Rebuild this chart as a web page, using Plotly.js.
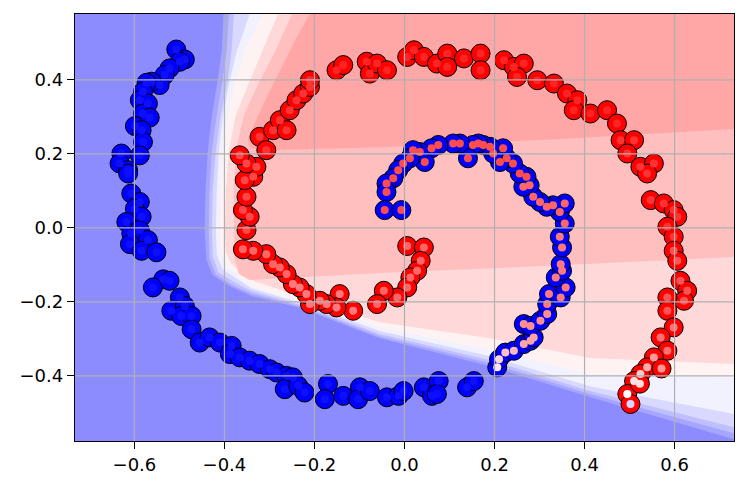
<!DOCTYPE html>
<html>
<head>
<meta charset="utf-8">
<script src="https://cdn.plot.ly/plotly-3.0.1.min.js"></script>
<style>
  html, body { margin: 0; padding: 0; background: #fff; }
  #chart { width: 748px; height: 488px; }
</style>
</head>
<body>
<div id="chart"></div>
<script>
// axis ticks
const xTickVals = [-0.6, -0.4, -0.2, 0, 0.2, 0.4, 0.6];
const xTickText = ['\u22120.6', '\u22120.4', '\u22120.2', '0.0', '0.2', '0.4', '0.6'];
const yTickVals = [-0.4, -0.2, 0, 0.2, 0.4];
const yTickText = ['\u22120.4', '\u22120.2', '0.0', '0.2', '0.4'];

// decision surface: contour lines (levels 0.1 .. 0.8)
const lvl1X = [-0.402,-0.406,-0.415,-0.428,-0.437,-0.442,-0.444,-0.440,-0.426,-0.388,-0.339,-0.233,-0.055,0.190,0.412,0.732];
const lvl1Y = [0.578,0.480,0.399,0.305,0.210,0.102,-0.006,-0.087,-0.128,-0.158,-0.185,-0.216,-0.298,-0.374,-0.457,-0.571];
const lvl2X = [-0.390,-0.395,-0.404,-0.417,-0.428,-0.433,-0.435,-0.433,-0.420,-0.382,-0.339,-0.233,-0.055,0.190,0.412,0.732];
const lvl2Y = [0.578,0.480,0.399,0.305,0.210,0.102,-0.006,-0.082,-0.125,-0.155,-0.178,-0.212,-0.293,-0.366,-0.449,-0.555];
const lvl3X = [-0.379,-0.384,-0.393,-0.408,-0.419,-0.426,-0.428,-0.426,-0.413,-0.375,-0.339,-0.233,-0.055,0.190,0.412,0.732];
const lvl3Y = [0.578,0.480,0.399,0.305,0.210,0.102,-0.006,-0.077,-0.120,-0.149,-0.171,-0.208,-0.287,-0.358,-0.441,-0.539];
const lvl4X = [-0.344,-0.373,-0.388,-0.403,-0.412,-0.417,-0.419,-0.417,-0.404,-0.368,-0.339,-0.233,-0.055,0.190,0.412,0.732];
const lvl4Y = [0.578,0.475,0.399,0.305,0.210,0.102,-0.006,-0.071,-0.112,-0.141,-0.164,-0.202,-0.279,-0.347,-0.428,-0.503];
const lvl5X = [-0.315,-0.355,-0.375,-0.393,-0.404,-0.408,-0.410,-0.408,-0.395,-0.362,-0.339,-0.233,-0.055,0.190,0.412,0.732];
const lvl5Y = [0.578,0.475,0.394,0.305,0.210,0.102,-0.006,-0.066,-0.104,-0.133,-0.158,-0.197,-0.268,-0.330,-0.395,-0.404];
const lvl6X = [-0.281,-0.317,-0.348,-0.375,-0.390,-0.397,-0.399,-0.397,-0.384,-0.353,-0.333,-0.233,-0.055,0.190,0.412,0.732];
const lvl6Y = [0.578,0.475,0.386,0.305,0.210,0.102,-0.006,-0.066,-0.098,-0.128,-0.144,-0.185,-0.255,-0.298,-0.352,-0.368];
const lvl7X = [-0.250,-0.288,-0.326,-0.357,-0.372,-0.379,-0.379,-0.377,-0.368,-0.344,-0.055,0.345,0.732];
const lvl7Y = [0.578,0.475,0.386,0.305,0.224,0.129,0.021,-0.087,-0.125,-0.141,-0.122,-0.101,-0.079];
const lvl8X = [-0.210,-0.237,-0.266,-0.299,-0.330,-0.348,-0.344,-0.317,-0.055,0.345,0.732];
const lvl8Y = [0.578,0.521,0.453,0.372,0.291,0.242,0.218,0.210,0.218,0.240,0.267];

const bgColor = '#8c8cff';
const levelColors = ['#a6a6ff', '#bfbfff', '#d9d9ff', '#f2f2ff', '#fff2f2', '#ffd9d9', '#ffbfbf', '#ffa6a6'];

// class 0 (blue spiral)
const blueX = [-0.507,-0.488,-0.499,-0.522,-0.533,-0.544,-0.562,-0.573,-0.581,-0.588,-0.570,-0.581,-0.566,-0.599,-0.584,-0.581,-0.588,-0.629,-0.633,-0.614,-0.614,-0.607,-0.588,-0.599,-0.584,-0.618,-0.607,-0.588,-0.570,-0.610,-0.584,-0.551,-0.536,-0.559,-0.522,-0.499,-0.518,-0.488,-0.496,-0.473,-0.473,-0.455,-0.433,-0.410,-0.384,-0.388,-0.366,-0.344,-0.322,-0.299,-0.284,-0.262,-0.248,-0.266,-0.236,-0.222,-0.170,-0.177,-0.136,-0.099,-0.103,-0.077,-0.039,-0.013,-0.002,0.043,0.061,0.076,0.072,0.139,0.154,
  0.206,0.210,0.224,0.243,0.265,0.280,0.287,0.265,0.280,0.302,0.317,0.317,0.321,0.347,0.358,0.336,0.350,0.347,0.350,0.345,0.356,0.345,0.356,0.330,0.316,0.301,0.286,0.278,0.264,0.271,0.256,0.241,0.227,0.212,0.219,0.197,0.190,0.175,0.164,0.152,0.141,0.123,0.108,0.075,0.060,0.045,0.034,0.019,0.012,-0.003,-0.014,-0.025,-0.040,-0.040,-0.044,-0.007];
const blueY = [0.482,0.455,0.449,0.431,0.413,0.386,0.395,0.392,0.368,0.345,0.336,0.309,0.298,0.275,0.264,0.232,0.196,0.201,0.174,0.156,0.147,0.093,0.070,0.052,0.030,0.016,-0.015,-0.006,-0.033,-0.044,-0.062,-0.066,-0.139,-0.161,-0.143,-0.188,-0.224,-0.211,-0.238,-0.238,-0.274,-0.310,-0.296,-0.310,-0.319,-0.341,-0.350,-0.359,-0.368,-0.382,-0.391,-0.400,-0.404,-0.436,-0.427,-0.445,-0.422,-0.463,-0.454,-0.431,-0.463,-0.441,-0.458,-0.454,-0.441,-0.431,-0.454,-0.414,-0.449,-0.431,-0.414,
  -0.377,-0.355,-0.337,-0.332,-0.314,-0.305,-0.296,-0.260,-0.265,-0.251,-0.233,-0.206,-0.179,-0.188,-0.161,-0.134,-0.116,-0.098,-0.053,-0.024,0.012,0.043,0.066,0.061,0.057,0.070,0.084,0.115,0.111,0.138,0.147,0.174,0.188,0.178,0.215,0.201,0.219,0.224,0.228,0.224,0.188,0.228,0.228,0.224,0.215,0.178,0.205,0.210,0.188,0.174,0.156,0.134,0.120,0.097,0.048,0.048];
// predicted probability of class 1 at each blue point
const blueProb = [0.03,0.03,0.03,0.03,0.03,0.03,0.03,0.03,0.03,0.03,0.03,0.03,0.03,0.03,0.03,0.03,0.03,0.03,0.03,0.03,0.03,0.03,0.03,0.03,0.03,0.03,0.03,0.03,0.03,0.03,0.03,0.03,0.03,0.03,0.03,0.03,0.03,0.03,0.03,0.03,0.03,0.03,0.03,0.03,0.03,0.03,0.03,0.03,0.03,0.03,0.03,0.03,0.03,0.03,0.03,0.03,0.03,0.03,0.03,0.03,0.03,0.03,0.03,0.03,0.03,0.03,0.03,0.03,0.03,0.03,0.03,
  0.55,0.58,0.62,0.64,0.68,0.68,0.68,0.72,0.72,0.72,0.72,0.76,0.76,0.76,0.76,0.76,0.76,0.76,0.76,0.76,0.80,0.80,0.80,0.80,0.80,0.80,0.80,0.80,0.80,0.85,0.85,0.85,0.85,0.85,0.85,0.85,0.85,0.85,0.85,0.85,0.85,0.85,0.85,0.85,0.85,0.85,0.85,0.85,0.85,0.85,0.85,0.85,0.85,0.85,0.85,0.85];

// class 1 (red spiral)
const redX = [0.006,0.043,0.036,0.028,0.013,0.006,-0.016,-0.046,-0.061,-0.114,-0.144,-0.151,-0.173,-0.188,-0.210,-0.218,-0.233,-0.248,-0.262,-0.277,-0.292,-0.307,-0.336,-0.359,-0.351,-0.344,-0.359,-0.351,-0.336,-0.355,-0.329,-0.351,-0.366,-0.322,-0.307,-0.292,-0.277,-0.262,-0.255,-0.240,-0.225,-0.210,-0.210,-0.151,-0.136,-0.084,-0.077,-0.061,-0.039,0.006,0.021,0.043,0.072,0.095,0.095,0.132,0.169,0.169,0.221,0.243,0.265,0.250,0.295,0.332,0.361,0.384,0.376,0.413,0.450,0.472,0.480,0.510,0.495,0.524,0.554,0.539,0.547,0.576,0.598,0.606,0.584,0.598,0.598,0.606,0.613,0.628,0.621,0.584,0.584,0.598,0.569,0.584,0.554,0.539,0.524,0.510,0.495,0.502,0.523,0.571];
const redY = [-0.049,-0.053,-0.089,-0.116,-0.134,-0.161,-0.188,-0.170,-0.206,-0.224,-0.179,-0.215,-0.206,-0.197,-0.206,-0.179,-0.161,-0.152,-0.125,-0.107,-0.098,-0.071,-0.062,-0.058,-0.006,0.030,0.048,0.084,0.138,0.129,0.165,0.174,0.196,0.246,0.210,0.264,0.291,0.264,0.318,0.345,0.363,0.381,0.399,0.426,0.440,0.449,0.417,0.444,0.426,0.462,0.480,0.462,0.444,0.471,0.435,0.458,0.471,0.426,0.453,0.435,0.444,0.408,0.399,0.390,0.363,0.345,0.318,0.309,0.318,0.282,0.237,0.237,0.201,0.165,0.174,0.147,0.075,0.066,0.048,0.030,0.003,-0.024,-0.062,-0.089,-0.143,-0.170,-0.197,-0.188,-0.224,-0.269,-0.296,-0.332,-0.350,-0.377,-0.395,-0.414,-0.449,-0.476,-0.421,-0.380];
const redProb = [0.80,0.80,0.80,0.80,0.80,0.80,0.80,0.80,0.80,0.76,0.76,0.76,0.76,0.76,0.76,0.76,0.76,0.76,0.80,0.80,0.80,0.80,0.80,0.80,0.86,0.86,0.86,0.86,0.86,0.86,0.86,0.86,0.86,0.90,0.90,0.90,0.90,0.90,0.90,0.90,0.90,0.90,0.90,
  0.93,0.93,0.93,0.93,0.93,0.93,0.93,0.93,0.93,0.93,0.93,0.93,0.93,0.93,0.93,0.93,0.93,0.93,0.93,0.93,0.93,0.93,0.93,0.93,0.93,0.93,0.93,
  0.90,0.90,0.90,0.90,0.90,0.90,0.90,0.90,0.90,0.90,0.90,0.90,0.84,0.84,0.84,0.84,0.84,0.84,0.84,0.78,0.78,0.78,0.70,0.66,0.60,0.56,0.50,0.42,0.56,0.70];

const xRange = [-0.732, 0.732];
const yRange = [-0.576, 0.578];

// filled superlevel region: contour line closed round the top-right outside the axes
function regionTrace(xs, ys, color) {
  const far = 0.9;
  const px = [xs[0]].concat(xs, [far, far]);
  const py = [far].concat(ys, [ys[ys.length - 1], far]);
  return {
    x: px, y: py, type: 'scatter', mode: 'lines',
    fill: 'toself', fillcolor: color,
    line: {width: 0, color: color},
    hoverinfo: 'skip', showlegend: false
  };
}

const levelsX = [lvl1X, lvl2X, lvl3X, lvl4X, lvl5X, lvl6X, lvl7X, lvl8X];
const levelsY = [lvl1Y, lvl2Y, lvl3Y, lvl4Y, lvl5Y, lvl6Y, lvl7Y, lvl8Y];
let traces = [];
for (let i = 0; i < levelsX.length; i++) {
  traces.push(regionTrace(levelsX[i], levelsY[i], levelColors[i]));
}

const bwr = [[0, '#0000ff'], [0.5, '#ffffff'], [1, '#ff0000']];

// true class, big circles
traces.push({
  x: blueX, y: blueY, type: 'scatter', mode: 'markers', showlegend: false,
  marker: {size: 19, color: '#0000ff', line: {color: '#000000', width: 1}}
});
traces.push({
  x: redX, y: redY, type: 'scatter', mode: 'markers', showlegend: false,
  marker: {size: 19, color: '#ff0000', line: {color: '#000000', width: 1}}
});
// predicted class, small dots on top
traces.push({
  x: blueX.concat(redX), y: blueY.concat(redY), type: 'scatter', mode: 'markers', showlegend: false,
  marker: {size: 8, color: blueProb.concat(redProb), colorscale: bwr, cmin: 0, cmax: 1, line: {width: 0}}
});

// grid drawn over the points, like matplotlib
let shapes = [];
xTickVals.forEach(function(v) {
  shapes.push({type: 'line', xref: 'x', yref: 'paper', x0: v, x1: v, y0: 0, y1: 1,
    line: {color: '#b0b0b0', width: 1.2}, layer: 'above'});
});
yTickVals.forEach(function(v) {
  shapes.push({type: 'line', xref: 'paper', yref: 'y', x0: 0, x1: 1, y0: v, y1: v,
    line: {color: '#b0b0b0', width: 1.2}, layer: 'above'});
});

const axisCommon = {
  showgrid: false, zeroline: false,
  showline: true, mirror: true, linecolor: '#000000', linewidth: 1.2,
  ticks: 'outside', ticklen: 7, tickwidth: 1.2, tickcolor: '#000000',
  tickfont: {family: 'DejaVu Sans', size: 18, color: '#000000'}
};

const layout = {
  width: 748, height: 488,
  margin: {l: 75, r: 14, t: 14, b: 47},
  paper_bgcolor: '#ffffff',
  plot_bgcolor: bgColor,
  showlegend: false,
  xaxis: Object.assign({}, axisCommon, {range: xRange, tickvals: xTickVals, ticktext: xTickText}),
  yaxis: Object.assign({}, axisCommon, {range: yRange, tickvals: yTickVals, ticktext: yTickText}),
  shapes: shapes
};

Plotly.newPlot('chart', traces, layout, {displayModeBar: false, staticPlot: true});
</script>
</body>
</html>
